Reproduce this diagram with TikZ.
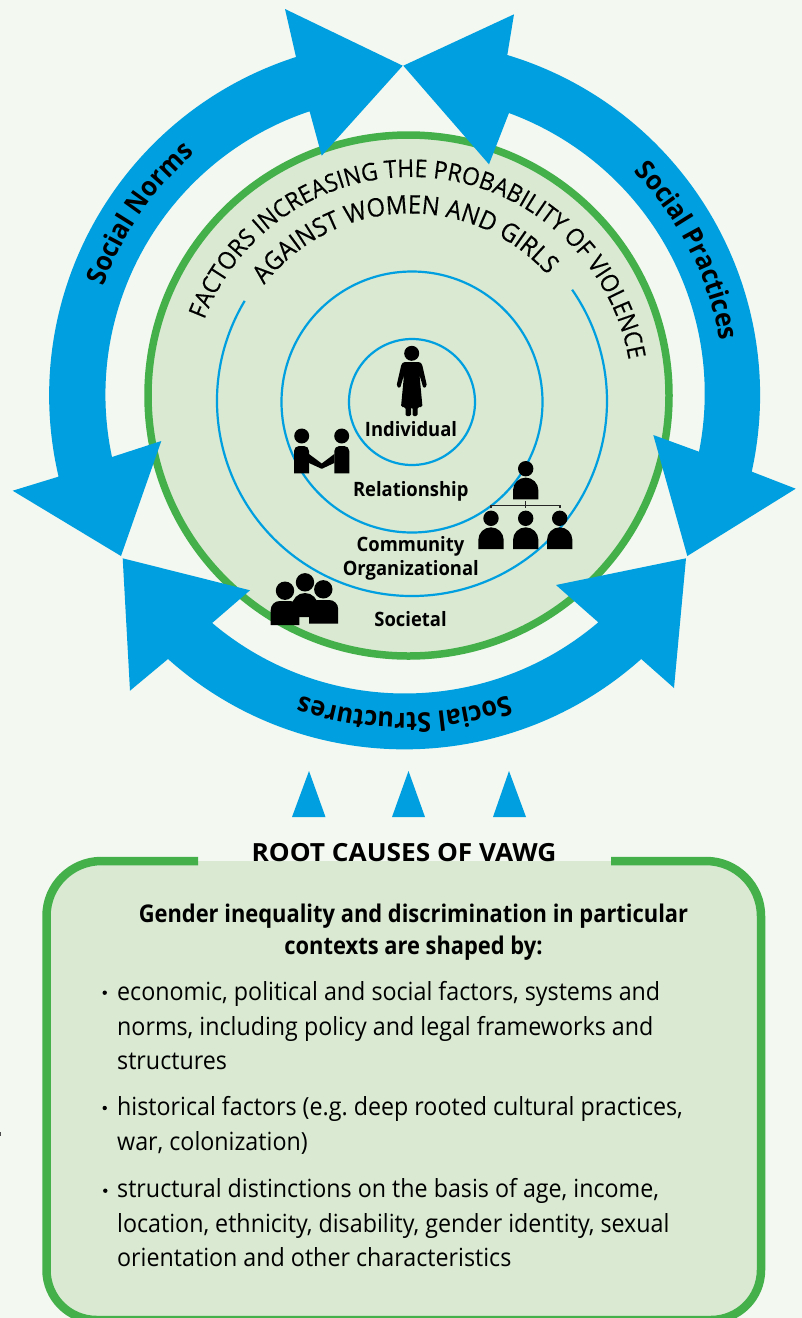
\documentclass[tikz,border=0pt]{standalone}
\usepackage{fontspec}
\setmainfont{Open Sans}[FakeStretch=0.93]
\newfontfamily\rootfont{Open Sans}[FakeStretch=1.05]
\newfontfamily\hdfont{Open Sans}[FakeStretch=0.897]
\newfontfamily\curvfam{Open Sans}[FakeStretch=0.93,FakeBold=0.3]
\usetikzlibrary{decorations.text}
\definecolor{bgc}{HTML}{F3F8F1}
\definecolor{paleg}{HTML}{D9E9D2}
\definecolor{ringg}{HTML}{43B04A}
\definecolor{blu}{HTML}{009FDF}
\newcommand{\bandfont}{\fontsize{27}{27}\selectfont\bfseries}
\newcommand{\curvefont}{\fontsize{24.5}{24.5}\curvfam}
\newcommand{\curvefontb}{\fontsize{25.5}{25.5}\curvfam}
\newcommand{\orgbody}[2]{\fill (#1-12.7,-#2) -- ++(0,9) arc[start angle=180,end angle=0,radius=12.7pt] -- ++(0,-9) -- cycle;}
\begin{document}
\frenchspacing
\begin{tikzpicture}[x=1pt,y=1pt,
  lvl/.style={font=\fontsize{19.8}{19.8}\selectfont\bfseries,anchor=base,inner sep=0pt},
  body/.style={font=\fontsize{25}{25}\selectfont,anchor=base west,inner sep=0pt},
  head/.style={font=\fontsize{24.4}{24.4}\hdfont\bfseries,anchor=base,inner sep=0pt},
  rootlab/.style={font=\fontsize{25}{25}\rootfont\bfseries,anchor=base,inner sep=0pt},
  arrowfill/.style={fill=blu,draw=none},
  ringline/.style={draw=blu,line width=2.2pt}]
\useasboundingbox (0,0) rectangle (802,-1318);
\fill[bgc] (0,0) rectangle (802,-1318);
\fill[black!70] (0,-1132) rectangle (1,-1136);

% central disc
\fill[paleg,draw=ringg,line width=7.5pt] (408.5,-395.5) circle[radius=260.5pt];
\draw[ringline] (412,-402) circle[radius=63pt];
\draw[ringline] (412,-402) circle[radius=130.5pt];
\draw[ringline] (412,-401) ++(149.1:195) arc[start angle=149.1,end angle=394.8,radius=195pt];

% big arrows
\coordinate (c) at (404.5,-395);
\fill[arrowfill] (402.7,-65.7) -- (285,-9) -- (296,-57)
  arc[start angle=107.8,end angle=193.2,radius=355.5pt]
  -- (12.7,-490.7) -- (121,-556) -- (161.3,-441) -- (112,-457)
  arc[start angle=192,end angle=108.5,radius=299pt]
  -- (321.7,-155.7) -- cycle;
\fill[arrowfill] (403.3,-65.7) -- (514,-14.3) -- (507.3,-55)
  arc[start angle=73.2,end angle=-12.4,radius=355.5pt]
  -- (795.7,-488.7) -- (687.3,-556) -- (653.3,-435) -- (699,-451.7)
  arc[start angle=-11.2,end angle=69.8,radius=299pt]
  -- (489,-164.3) -- cycle;
\fill[arrowfill] (122.7,-558.3) -- (130,-690.7) -- (168,-659)
  arc[start angle=228.2,end angle=311.8,radius=355pt]
  -- (674,-688) -- (686,-558.3) -- (556,-585) -- (598.3,-622.3)
  arc[start angle=310.4,end angle=229.8,radius=298.5pt]
  -- (250,-590.3) -- cycle;

% texts on the bands
\path[decorate,decoration={text along path,text align=center,text={|\bandfont|Social Norms}}]
  (c) ++(195.6:320) arc[start angle=195.6,end angle=95.6,radius=320pt];
\path[decorate,decoration={text along path,text align=center,text={|\bandfont|Social Practices}}]
  (c) ++(77:320) arc[start angle=77,end angle=-23,radius=320pt];
\path[decorate,decoration={text along path,text align=center,text={|\bandfont|Social Structures}}]
  (c) ++(-40:318) arc[start angle=-40,end angle=-140,radius=318pt];

% curved title
\path[decorate,decoration={text along path,text align=center,text={|\curvefont|FACTORS INCREASING THE PROBABILITY OF VIOLENCE}}]
  (411,-398) ++(174.6:221) arc[start angle=174.6,end angle=-5.4,radius=221pt];
\path[decorate,decoration={text along path,text align=center,text={|\curvefontb|AGAINST WOMEN AND GIRLS}}]
  (410,-398) ++(182:184.5) arc[start angle=182,end angle=2,radius=184.5pt];

% level labels
\node[lvl] (individual) at (411,-436.7) {Individual};
\node[lvl] (relationship) at (410.8,-496.7) {Relationship};
\node[lvl] (community) at (410.5,-551.7) {Community};
\node[lvl] (organizational) at (410.8,-575) {Organizational};
\node[lvl] (societal) at (410.5,-626.7) {Societal};

% woman icon
\fill (411.7,-353.3) circle[radius=7.5pt];
\fill[rounded corners=1.5pt] (403.5,-362) -- (420,-362) -- (422,-364) -- (427,-386) -- (423.5,-388.5) -- (419.5,-375) -- (422.5,-407) -- (417.5,-407) -- (417.5,-416) -- (412.5,-416) -- (412.5,-407) -- (411,-407) -- (411,-416) -- (405.5,-416) -- (405.5,-407) -- (401,-407) -- (404,-375) -- (400,-388.5) -- (396.5,-386) -- (401.5,-364) -- cycle;

% handshake icon
\fill (301.7,-436) circle[radius=7.5pt];
\fill (341.7,-436) circle[radius=7.5pt];
\fill (294,-473.3) [rounded corners=5pt] -- (294,-446) -- (309,-446) [sharp corners] -- (309,-473.3) -- cycle;
\fill (334.3,-473.3) [rounded corners=5pt] -- (334.3,-446) -- (349.3,-446) [sharp corners] -- (349.3,-473.3) -- cycle;
\fill (309,-454) -- (321.7,-463.5) -- (334.3,-454) -- (334.3,-463) -- (322.5,-468.5) -- (321,-468.5) -- (309,-463) -- cycle;

% organisation icon
\fill (525.7,-468.7) circle[radius=7.7pt];
\orgbody{525.7}{499.3}
\draw[black!85,line width=1.3pt] (491,-508) -- (491,-505.2) -- (560,-505.2) -- (560,-508);
\draw[black!85,line width=1.3pt] (525.7,-501) -- (525.7,-508);
\fill (491,-518.3) circle[radius=7.7pt];
\fill (525.7,-518.3) circle[radius=7.7pt];
\fill (559.7,-518.3) circle[radius=7.7pt];
\orgbody{491}{549}
\orgbody{525.7}{549}
\orgbody{559.7}{549}

% group icon
\fill (285,-590.7) circle[radius=9.2pt];
\fill (305,-582.3) circle[radius=9.2pt];
\fill (323.3,-589.3) circle[radius=9.2pt];
\fill (270.7,-625.2) [rounded corners=9pt] -- (270.7,-601) -- (299.3,-601) [sharp corners] -- (299.3,-625.2) -- cycle;
\fill (309,-623.5) [rounded corners=9pt] -- (309,-600) -- (338.2,-600) [sharp corners] -- (338.2,-623.5) -- cycle;
\fill (292,-617) -- (292,-606) arc[start angle=180,end angle=0,radius=13pt] -- (318,-617) -- cycle;

% small arrows
\fill[arrowfill] (309,-771) -- (292,-817) -- (325.5,-817) -- cycle;
\fill[arrowfill] (408.5,-771) -- (392,-817) -- (425,-817) -- cycle;
\fill[arrowfill] (509,-771) -- (493,-817) -- (526,-817) -- cycle;

% root box
\fill[paleg] (46.5,-1270) -- (46.5,-916) arc[start angle=180,end angle=90,radius=55pt]
  -- (706,-861) arc[start angle=90,end angle=0,radius=55pt] -- (761,-1270)
  arc[start angle=360,end angle=270,radius=50pt] -- (96.5,-1320)
  arc[start angle=270,end angle=180,radius=50pt] -- cycle;
\draw[ringg,line width=8.5pt] (198,-861) -- (101.5,-861) arc[start angle=90,end angle=180,radius=55pt]
  -- (46.5,-1270) arc[start angle=180,end angle=270,radius=50pt] -- (711,-1320)
  arc[start angle=270,end angle=360,radius=50pt] -- (761,-916)
  arc[start angle=0,end angle=90,radius=55pt] -- (611,-861);

\node[rootlab] (root) at (404,-861) {ROOT CAUSES OF VAWG};
\node[head] (h1) at (413.5,-922) {Gender inequality and discrimination in particular};
\node[head] (h2) at (413.5,-954) {contexts are shaped by:};

\fill (104.7,-992.7) circle[radius=2.2pt];
\fill (104.7,-1108) circle[radius=2.2pt];
\fill (105.3,-1190.7) circle[radius=2.2pt];
\node[body] (a1) at (117,-1000) {economic, political and social factors, systems and};
\node[body] (a2) at (117,-1035) {norms, including policy and legal frameworks and};
\node[body] (a3) at (117,-1069.3) {structures};
\node[body] (b1) at (117,-1115.7) {historical factors (e.g. deep rooted cultural practices,};
\node[body] (b2) at (117,-1150.7) {war, colonization)};
\node[body] (c1) at (117,-1197.7) {structural distinctions on the basis of age, income,};
\node[body] (c2) at (117,-1232.3) {location, ethnicity, disability, gender identity, sexual};
\node[body] (c3) at (117,-1266.7) {orientation and other characteristics};
\end{tikzpicture}
\end{document}
